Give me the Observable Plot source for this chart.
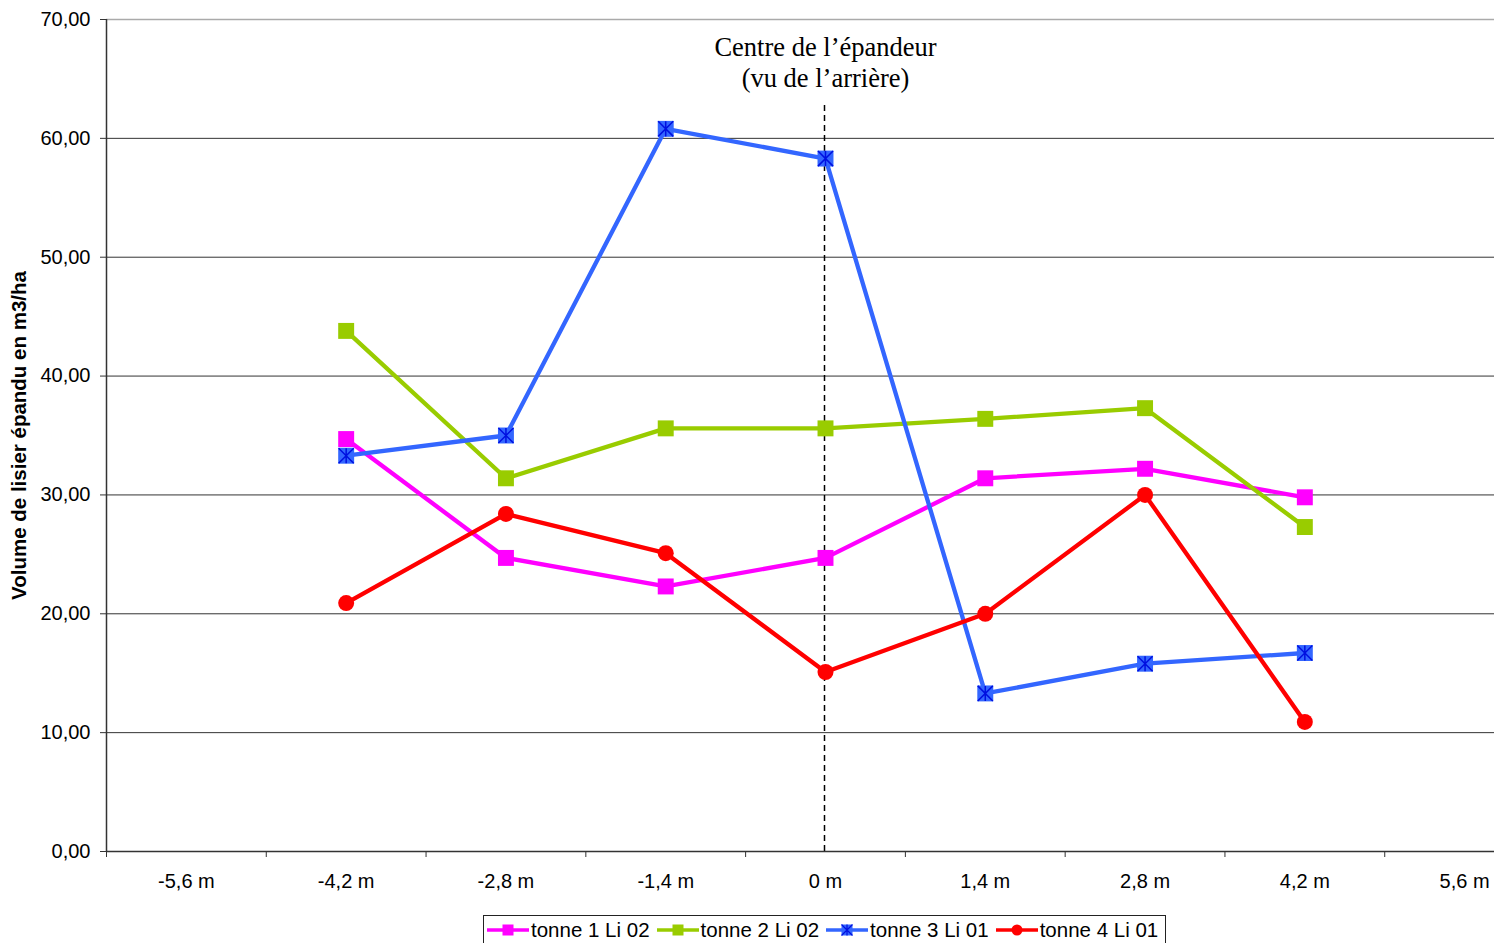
<!DOCTYPE html>
<html>
<head>
<meta charset="utf-8">
<script src="https://cdn.jsdelivr.net/npm/d3@7"></script>
<script src="https://cdn.jsdelivr.net/npm/@observablehq/plot@0.6"></script>
<style>
  html, body { margin: 0; padding: 0; background: white; overflow: hidden; }
  #wrap { position: relative; width: 1502px; height: 943px; }
  #legend {
    position: absolute; left: 483px; top: 915px; height: 30px; width: 683px;
    border: 1px solid #222; box-sizing: border-box; background: white;
    display: flex; align-items: center; padding: 0 3px;
    font-family: "Liberation Sans", Arial, sans-serif; font-size: 20.5px; color: black;
    white-space: nowrap;
  }
  .item { display: flex; align-items: center; margin-right: 7px; }
  .item:last-child { margin-right: 0; }
  .item svg { margin-right: 2px; }
</style>
</head>
<body>
<div id="wrap"><div id="chart"></div><div id="legend"></div></div>
<script>
// Categories (distance from the spreader centre, metres)
const positions = [-5.6, -4.2, -2.8, -1.4, 0, 1.4, 2.8, 4.2, 5.6];
const tickLabels = ["-5,6 m", "-4,2 m", "-2,8 m", "-1,4 m", "0 m", "1,4 m", "2,8 m", "4,2 m", "5,6 m"];
const dataPositions = [-4.2, -2.8, -1.4, 0, 1.4, 2.8, 4.2];

// Series values (m3/ha)
const tonne1 = [34.7, 24.7, 22.3, 24.7, 31.4, 32.2, 29.8];
const tonne2 = [43.8, 31.4, 35.6, 35.6, 36.4, 37.3, 27.3];
const tonne3 = [33.3, 35.0, 60.8, 58.3, 13.3, 15.8, 16.7];
const tonne4 = [20.9, 28.4, 25.1, 15.1, 20.0, 30.0, 10.9];

const seriesNames = ["tonne 1 Li 02", "tonne 2 Li 02", "tonne 3 Li 01", "tonne 4 Li 01"];
const seriesValues = [tonne1, tonne2, tonne3, tonne4];
const seriesColors = ["#FF00FF", "#99CC00", "#3366FF", "#FF0000"];
const seriesSymbols = ["square", "square", "square", "circle"];

const yTicks = [0, 10, 20, 30, 40, 50, 60, 70];
const yTitle = "Volume de lisier épandu en m3/ha";
const annotation = "Centre de l’épandeur\n(vu de l’arrière)";

// long-format table
const rows = [];
seriesNames.forEach((name, s) => {
  seriesValues[s].forEach((v, i) => rows.push({series: name, x: dataPositions[i], y: v}));
});

const half = (positions[1] - positions[0]) / 2;
const boundaries = positions.map(p => p - half).concat([positions[positions.length - 1] + half]);

const starSymbol = {
  draw(ctx, size) {
    const s = Math.sqrt(size) / 2;
    ctx.moveTo(-s, -s); ctx.lineTo(s, s);
    ctx.moveTo(s, -s); ctx.lineTo(-s, s);
    ctx.moveTo(0, -s); ctx.lineTo(0, s);
  }
};

const seriesMarks = [];
seriesNames.forEach((name, s) => {
  const d = rows.filter(r => r.series === name);
  seriesMarks.push(Plot.line(d, {x: "x", y: "y", stroke: seriesColors[s], strokeWidth: 4.3, strokeLinejoin: "round"}));
  if (seriesSymbols[s] === "circle") {
    seriesMarks.push(Plot.dot(d, {x: "x", y: "y", symbol: "circle", r: 8, fill: seriesColors[s], stroke: "none"}));
  } else {
    seriesMarks.push(Plot.dot(d, {x: "x", y: "y", symbol: "square", r: 9, fill: seriesColors[s], stroke: "none"}));
  }
  if (s === 2) {
    seriesMarks.push(Plot.dot(d, {x: "x", y: "y", symbol: starSymbol, r: 8.5, fill: "none", stroke: "#0010E0", strokeWidth: 1.5}));
  }
});

const chart = Plot.plot({
  width: 1502,
  height: 900,
  marginLeft: 106,
  marginRight: 8,
  marginTop: 19,
  marginBottom: 49,
  style: {fontFamily: "'Liberation Sans', Arial, sans-serif", fontSize: "20px", color: "black", background: "white", overflow: "hidden"},
  x: {type: "linear", domain: [boundaries[0], boundaries[boundaries.length - 1]], range: [106, 1544]},
  y: {domain: [0, 70], range: [851, 19]},
  marks: [
    Plot.ruleY(yTicks.filter(d => d > 0 && d < 70), {stroke: "#333", strokeWidth: 1, strokeOpacity: 1}),
    Plot.ruleY([70], {stroke: "#aaa", strokeWidth: 1.5, strokeOpacity: 1}),
    Plot.ruleX([0], {y1: 0, y2: 63.0, stroke: "black", strokeWidth: 1.5, strokeDasharray: "6,4", strokeOpacity: 1, dx: -1}),
    ...seriesMarks,
    Plot.ruleY([0], {stroke: "#333", strokeWidth: 1.5, strokeOpacity: 1}),
    Plot.ruleX([boundaries[0]], {stroke: "#333", strokeWidth: 1.5, strokeOpacity: 1}),
    Plot.axisY({ticks: yTicks, tickFormat: d => d.toFixed(2).replace(".", ","), tickSize: 6, tickPadding: 10, label: null, stroke: "#333", fontSize: 20}),
    Plot.axisX(boundaries, {tickSize: 6, text: null, label: null, stroke: "#333"}),
    Plot.axisX(positions, {tickSize: 0, tickPadding: 22, tickFormat: d => tickLabels[positions.indexOf(d)], label: null, fontSize: 20}),
    Plot.text([yTitle], {frameAnchor: "left", textAnchor: "middle", rotate: -90, dx: -87, fontWeight: "bold", fontSize: 20.5, fill: "black"}),
    Plot.text([annotation], {x: 0, frameAnchor: "top", lineAnchor: "top", dy: 14, lineHeight: 1.17, fontFamily: "'Liberation Serif', 'Times New Roman', serif", fontSize: 26.5, fill: "black"})
  ]
});
document.getElementById("chart").appendChild(chart);

// Legend
const legend = document.getElementById("legend");
seriesNames.forEach((name, s) => {
  const item = document.createElement("div");
  item.className = "item";
  const ns = "http://www.w3.org/2000/svg";
  const sw = document.createElementNS(ns, "svg");
  sw.setAttribute("width", 42); sw.setAttribute("height", 16);
  const line = document.createElementNS(ns, "line");
  line.setAttribute("x1", 0); line.setAttribute("x2", 42); line.setAttribute("y1", 8); line.setAttribute("y2", 8);
  line.setAttribute("stroke", seriesColors[s]); line.setAttribute("stroke-width", 3.5);
  sw.appendChild(line);
  if (seriesSymbols[s] === "circle") {
    const c = document.createElementNS(ns, "circle");
    c.setAttribute("cx", 21); c.setAttribute("cy", 8); c.setAttribute("r", 5.5); c.setAttribute("fill", seriesColors[s]);
    sw.appendChild(c);
  } else {
    const r = document.createElementNS(ns, "rect");
    r.setAttribute("x", 15.5); r.setAttribute("y", 2.5); r.setAttribute("width", 11); r.setAttribute("height", 11); r.setAttribute("fill", seriesColors[s]);
    sw.appendChild(r);
    if (s === 2) {
      const p = document.createElementNS(ns, "path");
      p.setAttribute("d", "M15.5,2.5L26.5,13.5M26.5,2.5L15.5,13.5M21,2.5L21,13.5");
      p.setAttribute("stroke", "#0010E0"); p.setAttribute("stroke-width", 1.2); p.setAttribute("fill", "none");
      sw.appendChild(p);
    }
  }
  item.appendChild(sw);
  const t = document.createElement("span");
  t.textContent = name;
  item.appendChild(t);
  legend.appendChild(item);
});
</script>
</body>
</html>
